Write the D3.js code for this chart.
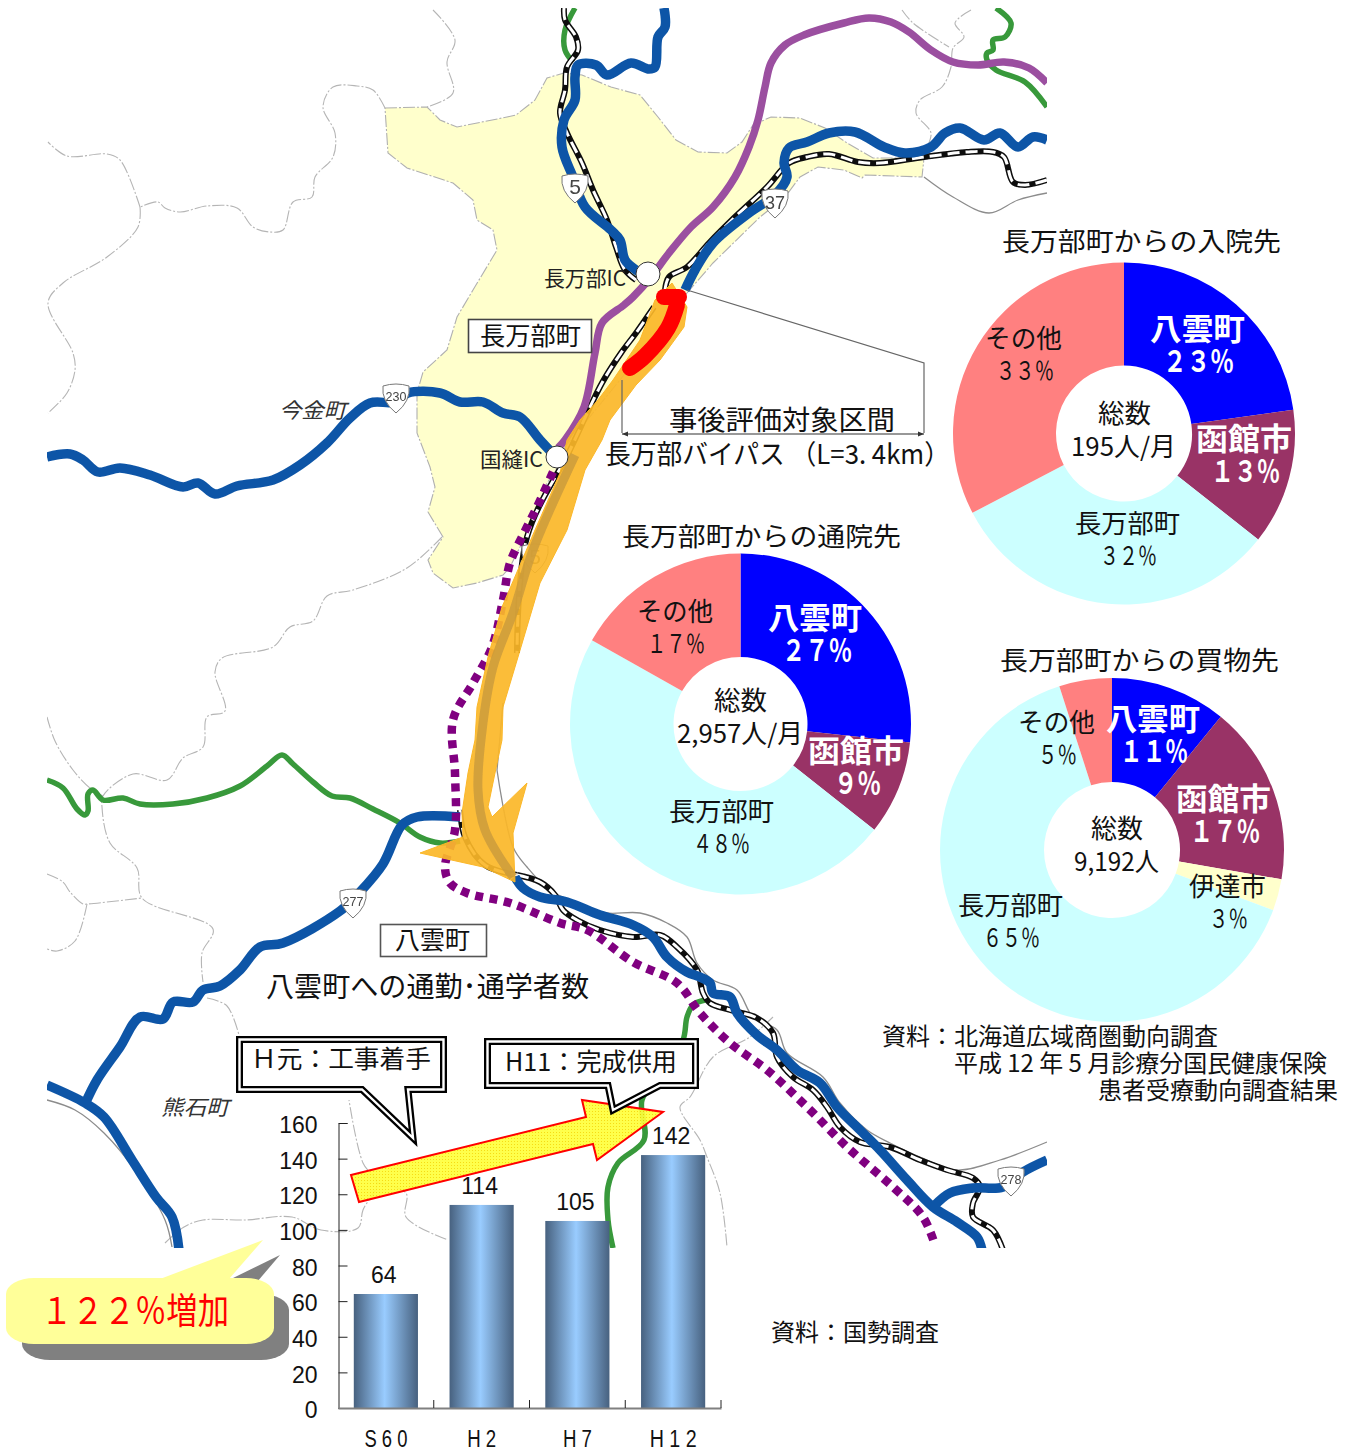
<!DOCTYPE html>
<html>
<head>
<meta charset="utf-8">
<script src="https://cdn.jsdelivr.net/npm/d3@7"></script>
<style>
  html, body { margin: 0; padding: 0; background: #fff; }
  svg { display: block; }
  text { font-family: "Noto Sans CJK JP", sans-serif; fill: #111; }
  .num text, text.num { font-family: "Liberation Sans", Arial, sans-serif; }
</style>
</head>
<body>
<div id="chart"></div>
<script>
// ---- chart data ----
var years = ["S 6 0", "H 2", "H 7", "H 1 2"];
var commuters = [64, 114, 105, 142];
var yTicks = [0, 20, 40, 60, 80, 100, 120, 140, 160];

var hospitalNames = ["八雲町", "函館市", "長万部町", "その他"];
var hospitalValues = [23, 13, 32, 33];
var clinicNames = ["八雲町", "函館市", "長万部町", "その他"];
var clinicValues = [27, 9, 48, 17];
var shoppingNames = ["八雲町", "函館市", "伊達市", "長万部町", "その他"];
var shoppingValues = [11, 17, 3, 65, 5];

// ---- base map traces, page pixels ----
var townOutline = [[385,108],[427,107],[440,120],[457,127],[507,117],[516,115],[535,100],[547,78],[564,73],[582,75],[611,87],[640,95],[658,117],[676,140],[698,152],[727,153],[742,142],[753,125],[771,117],[800,118],[825,128],[847,143],[873,158],[924,158],[922,177],[865,175],[862,178],[844,170],[818,167],[800,177],[785,197],[760,217],[713,263],[687,293],[620,380],[565,447],[556,470],[547,483],[530,527],[510,567],[503,575],[477,583],[453,588],[433,573],[428,560],[443,537],[428,512],[435,487],[430,467],[417,433],[417,393],[423,372],[447,350],[457,317],[473,290],[497,250],[493,230],[477,220],[473,200],[453,183],[407,168],[388,153]];

var borderLines = [
  [[433,10],[455,40],[447,62],[453,93],[427,107]],
  [[385,108],[373,90],[357,86],[333,87],[323,107],[335,133],[333,157],[315,177],[312,197],[293,202],[283,230],[270,232],[253,227],[237,208],[207,206],[180,212],[165,208],[158,202],[140,207]],
  [[140,207],[120,160],[107,154],[67,156],[48,142]],
  [[140,207],[138,227],[107,257],[63,283],[48,303],[73,353],[75,370],[67,393],[48,413]],
  [[442,537],[407,568],[353,590],[327,596],[313,621],[290,627],[273,647],[222,658],[215,672],[225,711],[207,717],[203,747],[183,758],[167,780],[133,774],[103,796],[102,807],[110,843],[137,868],[142,898],[213,929],[202,953],[203,982]],
  [[47,717],[55,741],[73,770],[90,788],[103,796]],
  [[47,874],[63,882],[70,892],[83,904],[87,904],[142,898]],
  [[87,904],[75,941],[57,951],[47,949]],
  [[207,998],[227,1006],[240,1039]],
  [[165,1243],[184,1227],[203,1220],[245,1220],[292,1217],[321,1230],[358,1228],[363,1210],[377,1183],[363,1163],[349,1100]],
  [[377,1183],[406,1193],[406,1217],[448,1240]],
  [[773,1017],[750,1037],[713,1057],[690,1097],[680,1107],[700,1140],[707,1157],[720,1193],[727,1247]],
  [[971,10],[955,23],[964,37],[953,48],[951,67],[942,87],[920,100],[916,113],[931,133],[927,147]],
  [[902,10],[913,23],[949,47]]
];

var coastLines = [
  [[924,177],[953,197],[989,213],[1018,200],[1047,193]],
  [[497,770],[513,847],[527,867],[550,890],[587,907],[607,913],[640,913],[667,923],[687,937],[697,963],[713,980],[737,990],[753,1017],[777,1030],[787,1053],[823,1077],[840,1103],[867,1130],[890,1143],[920,1157],[957,1170],[1000,1160],[1047,1142]],
  [[47,1100],[75,1110],[104,1133],[137,1173],[165,1220],[172,1247]],
  [[503,703],[497,770]]
];

var greenRoads = [
  [[47,780],[63,788],[77,809],[85,815],[88,811],[88,794],[93,790],[103,800],[123,798],[140,804],[173,804],[207,798],[240,786],[267,766],[282,755],[293,764],[313,782],[332,796],[350,798],[373,809],[400,823],[420,837],[440,843],[460,841]],
  [[575,8],[565,30],[565,50],[573,62]],
  [[996,8],[1011,23],[1005,37],[993,40],[993,50],[987,53],[987,60],[996,70],[1025,82],[1047,107]],
  [[705,1000],[693,1005],[687,1017],[683,1040],[660,1075],[642,1100],[644,1140],[618,1163],[608,1187],[608,1220],[613,1248]]
];

var blueRoads = [
  [[47,457],[70,454],[83,460],[98,472],[120,468],[150,475],[183,487],[198,483],[215,494],[237,486],[273,480],[300,465],[327,443],[350,418],[370,403],[395,402],[408,393],[440,393],[460,402],[483,402],[503,413],[520,417],[540,440],[556,457]],
  [[664,8],[665,27],[658,37],[655,67],[649,69],[631,63],[607,75],[596,65],[578,65],[575,77],[575,100],[564,120],[562,147],[573,177],[585,207],[611,230],[620,240],[625,260],[636,270],[649,277]],
  [[1047,140],[1033,137],[1018,147],[1000,133],[984,140],[960,128],[945,133],[931,147],[905,153],[884,147],[855,132],[829,133],[807,142],[789,148],[784,163],[787,177],[775,195],[749,213],[713,243],[695,270],[685,290]],
  [[460,817],[417,817],[402,825],[383,864],[360,892],[340,911],[283,943],[260,947],[240,970],[220,986],[203,990],[193,1002],[173,1002],[163,1019],[140,1017],[120,1047],[97,1080],[85,1104]],
  [[47,1085],[85,1103],[104,1117],[132,1160],[156,1197],[172,1217],[179,1250]],
  [[515,877],[523,888],[540,897],[567,902],[600,915],[633,925],[653,937],[667,957],[687,972],[700,977],[710,983],[713,993],[730,997],[737,1013],[757,1035],[777,1050],[797,1070],[820,1083],[837,1107],[860,1130],[880,1150],[907,1180],[933,1207],[957,1222],[977,1237],[982,1250]],
  [[933,1207],[950,1193],[973,1188],[1003,1187],[1023,1172],[1047,1160]]
];

var expressway = [[1047,83],[1029,68],[1004,62],[978,65],[953,62],[931,50],[909,32],[891,22],[869,18],[844,23],[804,35],[785,45],[771,63],[765,87],[758,120],[749,147],[735,177],[713,207],[691,227],[669,253],[651,277],[633,297],[624,305],[602,323],[595,353],[584,407],[565,440],[558,448]];

var plannedRoad = [[553,472],[537,507],[523,535],[510,563],[503,600],[492,647],[473,683],[453,720],[455,773],[455,830],[445,867],[450,883],[467,893],[510,903],[560,923],[587,930],[633,962],[677,983],[700,1013],[730,1043],[767,1070],[807,1107],[847,1147],[893,1187],[923,1217],[935,1245]];

var railLines = [
  [[564,8],[565,20],[576,37],[578,50],[567,67],[565,90],[560,113],[567,133],[582,163],[593,190],[607,220],[616,247],[625,270],[636,280]],
  [[1047,180],[1025,185],[1013,182],[1004,157],[993,152],[967,152],[924,157],[880,163],[858,162],[829,154],[807,157],[789,163],[767,187],[735,217],[709,243],[687,267],[669,277],[665,290]],
  [[654,307],[636,333],[621,353],[602,383],[570,450],[527,537],[517,653]],
  [[460,810],[465,837],[485,865],[517,875]],
  [[517,875],[540,882],[555,895],[563,910],[577,920],[600,930],[633,937],[660,935],[677,947],[697,970],[703,993],[710,1003],[730,1010],[757,1018],[773,1033],[777,1057],[793,1077],[813,1090],[827,1107],[840,1127],[860,1142],[890,1147],[920,1160],[947,1170],[973,1178],[980,1187],[973,1203],[973,1217],[993,1230],[1003,1250]]
];

var bypassArrow = [[672,283],[687,307],[684,327],[660,360],[636,385],[610,420],[602,440],[585,470],[567,530],[540,583],[518,657],[503,707],[502,740],[495,773],[488,807],[492,817],[527,783],[513,833],[515,882],[483,867],[420,853],[463,837],[462,813],[468,773],[475,740],[477,707],[488,657],[502,607],[535,530],[560,473],[567,440],[580,420],[598,400],[613,380],[640,340],[655,300]];
var bypassBand = [[575,455],[533,550],[513,613],[493,667],[483,723],[478,790],[485,830],[513,877]];
var bypassSection = [[630,368],[645,356],[668,328],[677,305]];
var bypassHead = [[664,297],[679,297]];

// ---- layout ----
var width = 1353, height = 1452;

var svg = d3.select('#chart').append('svg')
            .attr('width', width)
            .attr('height', height);

var defs = svg.append('defs');

defs.append('clipPath').attr('id', 'mapClip')
    .append('rect')
    .attr('x', 47).attr('y', 8)
    .attr('width', 1000).attr('height', 1240);

defs.append('filter').attr('id', 'soft')
    .attr('x', 0).attr('y', 0).attr('width', 1).attr('height', 1)
    .append('feGaussianBlur').attr('stdDeviation', 0.5);

var barGrad = defs.append('linearGradient').attr('id', 'barGrad');
barGrad.append('stop').attr('offset', '0%').attr('stop-color', '#47617f');
barGrad.append('stop').attr('offset', '48%').attr('stop-color', '#99ccff');
barGrad.append('stop').attr('offset', '100%').attr('stop-color', '#47617f');

var speckle = defs.append('pattern').attr('id', 'speckle')
    .attr('width', 3).attr('height', 3)
    .attr('patternUnits', 'userSpaceOnUse');
speckle.append('rect').attr('width', 3).attr('height', 3).attr('fill', '#ffff3c');
speckle.append('rect').attr('x', 1).attr('y', 1).attr('width', 1).attr('height', 1).attr('fill', '#f5d800');

var smooth = d3.line().curve(d3.curveCatmullRom.alpha(0.5));
var straight = d3.line();

// fits a string between two x positions, the original type is condensed
function fitText(parent, str, x0, x1, yc, size, opts) {
  opts = opts || {};
  return parent.append('text')
      .attr('x', x0)
      .attr('y', yc + size * 0.36)
      .attr('textLength', x1 - x0)
      .attr('lengthAdjust', 'spacingAndGlyphs')
      .style('font-size', size + 'px')
      .style('font-weight', opts.bold ? 700 : 400)
      .style('font-style', opts.italic ? 'italic' : 'normal')
      .style('fill', opts.fill || '#111')
      .text(str);
}

// ---- base map ----
var map = svg.append('g')
    .attr('clip-path', 'url(#mapClip)')
    .append('g')
    .attr('filter', 'url(#soft)');

map.append('path')
    .attr('d', straight(townOutline) + 'Z')
    .attr('fill', '#ffffcc')
    .attr('stroke', '#b0b0b0')
    .attr('stroke-width', 1.1)
    .attr('stroke-dasharray', '12 2 2 2');

map.selectAll('.border')
    .data(borderLines)
    .enter()
    .append('path')
    .attr('class', 'border')
    .attr('d', smooth)
    .attr('fill', 'none')
    .attr('stroke', '#b5b5b5')
    .attr('stroke-width', 1.1)
    .attr('stroke-dasharray', '12 2 2 2');

map.selectAll('.coast')
    .data(coastLines)
    .enter()
    .append('path')
    .attr('class', 'coast')
    .attr('d', smooth)
    .attr('fill', 'none')
    .attr('stroke', '#8c8c8c')
    .attr('stroke-width', 1.3);

map.selectAll('.green')
    .data(greenRoads)
    .enter()
    .append('path')
    .attr('class', 'green')
    .attr('d', smooth)
    .attr('fill', 'none')
    .attr('stroke', '#37993a')
    .attr('stroke-width', 5.5);

map.selectAll('.railBase')
    .data(railLines)
    .enter()
    .append('path')
    .attr('class', 'railBase')
    .attr('d', smooth)
    .attr('fill', 'none')
    .attr('stroke', '#0c0c0c')
    .attr('stroke-width', 6);

map.selectAll('.railDash')
    .data(railLines)
    .enter()
    .append('path')
    .attr('class', 'railDash')
    .attr('d', smooth)
    .attr('fill', 'none')
    .attr('stroke', '#fff')
    .attr('stroke-width', 3)
    .attr('stroke-dasharray', '12 6');

map.selectAll('.blue')
    .data(blueRoads)
    .enter()
    .append('path')
    .attr('class', 'blue')
    .attr('d', smooth)
    .attr('fill', 'none')
    .attr('stroke', '#0d55a7')
    .attr('stroke-width', 9.5)
    .attr('stroke-linejoin', 'round');

map.append('path')
    .attr('d', smooth(expressway))
    .attr('fill', 'none')
    .attr('stroke', '#9b4fa0')
    .attr('stroke-width', 7.5);

map.append('path')
    .attr('d', smooth(plannedRoad))
    .attr('fill', 'none')
    .attr('stroke', '#800080')
    .attr('stroke-width', 8.5)
    .attr('stroke-dasharray', '8 6.5');

// road number shields
var shields = [["5", 575, 188], ["37", 775, 203], ["230", 396, 398], ["277", 353, 903], ["278", 1011, 1181], ["5", 535, 558]];
var shield = map.selectAll('.shield')
    .data(shields)
    .enter()
    .append('g')
    .attr('class', 'shield')
    .attr('transform', d => `translate(${d[1]},${d[2]})`);
shield.append('path')
    .attr('d', 'M-13,-12 Q0,-16 13,-12 Q15,3 0,15 Q-15,3 -13,-12Z')
    .attr('fill', '#fff')
    .attr('stroke', '#777')
    .attr('stroke-width', 1);
shield.append('text')
    .attr('class', 'num')
    .attr('text-anchor', 'middle')
    .attr('y', d => d[0].length > 2 ? 3 : 6)
    .style('font-size', d => d[0].length > 2 ? '12.5px' : (d[0].length > 1 ? '18px' : '21px'))
    .style('fill', '#444')
    .text(d => d[0]);

// bypass arrow sits over the roads
map.append('path')
    .attr('d', straight(bypassArrow) + 'Z')
    .attr('fill', '#fbb729')
    .attr('fill-opacity', 0.92)
    .attr('stroke', '#fbb729')
    .attr('stroke-width', 1);
map.append('path')
    .attr('d', smooth(bypassBand))
    .attr('fill', 'none')
    .attr('stroke', '#c99a3c')
    .attr('stroke-width', 9)
    .attr('stroke-opacity', 0.8);
map.selectAll('.section')
    .data([bypassSection, bypassHead])
    .enter()
    .append('path')
    .attr('class', 'section')
    .attr('d', smooth)
    .attr('fill', 'none')
    .attr('stroke', '#ff0000')
    .attr('stroke-width', 16)
    .attr('stroke-linecap', 'round')
    .attr('stroke-linejoin', 'round');

// interchanges
map.selectAll('.ic')
    .data([[648, 274, 12], [557, 457, 11]])
    .enter()
    .append('circle')
    .attr('class', 'ic')
    .attr('cx', d => d[0])
    .attr('cy', d => d[1])
    .attr('r', d => d[2])
    .attr('fill', '#fff')
    .attr('stroke', '#333')
    .attr('stroke-width', 1);

// evaluated section bracket
var notes = svg.append('g');
notes.append('path')
    .attr('d', 'M687,290L924,363V433M622,380V433')
    .attr('fill', 'none')
    .attr('stroke', '#666')
    .attr('stroke-width', 1.2);
notes.append('path')
    .attr('d', 'M622,434H924')
    .attr('stroke', '#333')
    .attr('stroke-width', 1.2);
notes.append('path')
    .attr('d', 'M622,434l6,-2.5v5ZM924,434l-6,-2.5v5Z')
    .attr('fill', '#333');

fitText(notes, '事後評価対象区間', 669, 895, 420, 27);
fitText(notes, '長万部バイパス （L=3. 4km）', 605, 950, 454, 27);

notes.append('rect')
    .attr('x', 468.5).attr('y', 319.5)
    .attr('width', 123).attr('height', 33)
    .attr('fill', '#fff').attr('stroke', '#444').attr('stroke-width', 1.6);
fitText(notes, '長万部町', 480, 581, 336, 25);

notes.append('rect')
    .attr('x', 380.5).attr('y', 924.5)
    .attr('width', 106).attr('height', 32)
    .attr('fill', '#fff').attr('stroke', '#555').attr('stroke-width', 1.6);
fitText(notes, '八雲町', 395, 470, 940, 25);

fitText(notes, '長万部IC', 544, 626, 278, 21, {fill: '#222'});
fitText(notes, '国縫IC', 480, 543, 459, 21, {fill: '#222'});
fitText(notes, '今金町', 279, 346, 410, 21, {italic: true, fill: '#333'});
fitText(notes, '熊石町', 161, 229, 1107, 21, {italic: true, fill: '#333'});
fitText(notes, '八雲町への通勤･通学者数', 266, 589, 987, 28);

// ---- pies ----
var sliceColors = {"八雲町": "#0000ff", "函館市": "#993366", "長万部町": "#ccffff", "その他": "#ff8080", "伊達市": "#ffffcc"};
var lightText = {"八雲町": true, "函館市": true};

var pie = d3.pie().sort(null);

function wideDigits(v) {
  return String(v).replace(/\d/g, c => String.fromCharCode(c.charCodeAt(0) + 0xFEE0)) + '％';
}

function drawPie(names, values, conf) {
  var g = svg.append('g');
  var arc = d3.arc().innerRadius(conf.r0).outerRadius(conf.r1);

  g.append('g')
      .attr('transform', `translate(${conf.cx},${conf.cy})`)
      .selectAll('path')
      .data(pie(values))
      .enter()
      .append('path')
      .attr('d', arc)
      .attr('fill', (d, i) => sliceColors[names[i]]);

  names.forEach(function(name, i) {
    var b = conf.boxes[name];
    var light = lightText[name];
    var opts = light ? {bold: true, fill: '#fff'} : {};
    fitText(g, name, b[0], b[1], b[2], light ? 31 : 26, opts);
    fitText(g, wideDigits(values[i]), b[3], b[4], b[2] + 32, light ? 30 : 25, opts);
  });

  fitText(g, '総数', conf.total[0], conf.total[1], conf.total[2], 26);
  fitText(g, conf.totalText, conf.total[3], conf.total[4], conf.total[2] + 33, 26);
  fitText(g, conf.title, conf.titleBox[0], conf.titleBox[1], conf.titleBox[2], 26);
}

drawPie(hospitalNames, hospitalValues, {
  cx: 1124, cy: 433.5, r0: 68, r1: 171,
  title: '長万部町からの入院先', titleBox: [1002, 1281, 242],
  totalText: '195人/月', total: [1098, 1151, 414, 1071, 1176],
  boxes: {
    "八雲町": [1150, 1245, 329, 1163, 1234],
    "函館市": [1196, 1292, 439, 1211, 1280],
    "長万部町": [1075, 1180, 524, 1100, 1157],
    "その他": [985, 1062, 339, 996, 1054]
  }
});

drawPie(clinicNames, clinicValues, {
  cx: 740.5, cy: 724, r0: 67, r1: 170.5,
  title: '長万部町からの通院先', titleBox: [622, 901, 537],
  totalText: '2,957人/月', total: [714, 767, 701, 677, 803],
  boxes: {
    "八雲町": [768, 862, 618, 782, 852],
    "函館市": [808, 904, 751, 834, 881],
    "長万部町": [669, 774, 812, 693, 750],
    "その他": [637, 713, 612, 647, 705]
  }
});

drawPie(shoppingNames, shoppingValues, {
  cx: 1112, cy: 850, r0: 68, r1: 172,
  title: '長万部町からの買物先', titleBox: [1000, 1279, 661],
  totalText: '9,192人', total: [1091, 1143, 829, 1074, 1159],
  boxes: {
    "八雲町": [1106, 1200, 719, 1120, 1188],
    "函館市": [1176, 1271, 799, 1190, 1260],
    "伊達市": [1189, 1266, 887, 1209, 1248],
    "長万部町": [958, 1063, 906, 983, 1040],
    "その他": [1018, 1095, 723, 1038, 1077]
  }
});

// sources
var src = svg.append('g');
fitText(src, '資料：北海道広域商圏動向調査', 882, 1218, 1036, 24);
fitText(src, '平成 12 年 5 月診療分国民健康保険', 954, 1327, 1063, 24);
fitText(src, '患者受療動向調査結果', 1098, 1338, 1090, 24);
fitText(src, '資料：国勢調査', 771, 939, 1332, 24);

// ---- bar chart ----
var xScale = d3.scaleBand()
              .domain(years)
              .range([338, 721])
              .paddingInner(0.33)
              .paddingOuter(0.165);

var yScale = d3.scaleLinear()
              .domain([0, 160])
              .range([1408, 1123]);

var bars = svg.append('g');

bars.selectAll('.bar')
    .data(commuters)
    .enter()
    .append('rect')
    .attr('class', 'bar')
    .attr('x', (d, i) => xScale(years[i]))
    .attr('y', d => yScale(d))
    .attr('width', xScale.bandwidth())
    .attr('height', d => yScale(0) - yScale(d))
    .attr('fill', 'url(#barGrad)');

bars.selectAll('.barLabel')
    .data(commuters)
    .enter()
    .append('text')
    .attr('class', 'barLabel num')
    .attr('x', (d, i) => xScale(years[i]) + xScale.bandwidth() / 2 - 2)
    .attr('y', d => yScale(d) - 11)
    .attr('text-anchor', 'middle')
    .style('font-size', '23px')
    .text(d => d);

var yAxis = d3.axisLeft(yScale)
              .tickValues(yTicks)
              .tickSize(-9)
              .tickPadding(21);

var yG = svg.append('g')
    .attr('class', 'y axis num')
    .attr('transform', 'translate(338.5,0)')
    .call(yAxis);
yG.select('.domain').attr('stroke', '#222');
yG.selectAll('line').attr('stroke', '#222');
yG.selectAll('text')
    .style('font-size', '23px')
    .attr('dy', '0.42em');

var xAxis = d3.axisBottom(xScale).tickSize(0);

var xG = svg.append('g')
    .attr('class', 'x axis num')
    .attr('transform', 'translate(0,1408)')
    .call(xAxis);
xG.select('.domain').attr('stroke', '#808080').attr('stroke-width', 2);
xG.selectAll('text')
    .attr('y', 39)
    .attr('dy', 0)
    .style('font-size', '23.5px')
    .attr('textLength', d => d.length > 3 ? (d[0] == 'S' ? 43 : 47) : 29)
    .attr('lengthAdjust', 'spacingAndGlyphs');

// the chart has its ticks between the bars
xG.selectAll('.sep')
    .data(years)
    .enter()
    .append('line')
    .attr('class', 'sep')
    .attr('x1', d => xScale(d) + xScale.bandwidth() + xScale.step() * 0.33 / 2)
    .attr('x2', d => xScale(d) + xScale.bandwidth() + xScale.step() * 0.33 / 2)
    .attr('y1', -8)
    .attr('y2', 0)
    .attr('stroke', '#222');

// ---- callouts over the bar chart ----
var calls = svg.append('g');

function doubleBox(points) {
  calls.append('path')
      .attr('d', straight(points) + 'Z')
      .attr('fill', '#fff')
      .attr('stroke', '#000')
      .attr('stroke-width', 7)
      .attr('stroke-linejoin', 'miter')
      .attr('stroke-miterlimit', 8);
  calls.append('path')
      .attr('d', straight(points) + 'Z')
      .attr('fill', 'none')
      .attr('stroke', '#fff')
      .attr('stroke-width', 2.4)
      .attr('stroke-linejoin', 'miter')
      .attr('stroke-miterlimit', 8);
}

// growth arrow
calls.append('path')
    .attr('d', straight([[351,1175],[586,1117],[582,1100],[663,1112],[597,1160],[593,1144],[359,1202]]) + 'Z')
    .attr('fill', 'url(#speckle)')
    .attr('fill-opacity', 0.92)
    .attr('stroke', '#ff0000')
    .attr('stroke-width', 2);

doubleBox([[239.5,1039.5],[443.5,1039.5],[443.5,1089.5],[408,1089.5],[413,1138],[362,1089.5],[239.5,1089.5]]);
fitText(calls, 'Ｈ元：工事着手', 251, 431, 1059, 25);

doubleBox([[487.5,1041.5],[695.5,1041.5],[695.5,1085.5],[660,1085.5],[613,1110],[608,1085.5],[487.5,1085.5]]);
fitText(calls, 'H11：完成供用', 505, 677, 1062, 25);

// 122% balloon with its shadow
calls.append('path')
    .attr('d', straight([[280,1255],[257,1282],[231,1279]]) + 'Z')
    .attr('fill', '#808080');
calls.append('rect')
    .attr('x', 22).attr('y', 1294)
    .attr('width', 267).attr('height', 66)
    .attr('rx', 28).attr('ry', 16)
    .attr('fill', '#808080');
calls.append('path')
    .attr('d', straight([[160,1279],[263,1240],[229,1279]]) + 'Z')
    .attr('fill', '#ffff99');
calls.append('rect')
    .attr('x', 6).attr('y', 1278)
    .attr('width', 268).attr('height', 66)
    .attr('rx', 28).attr('ry', 16)
    .attr('fill', '#ffff99');
fitText(calls, '１２２％増加', 41, 229, 1311, 36, {fill: '#ff0000'});
</script>
</body>
</html>
